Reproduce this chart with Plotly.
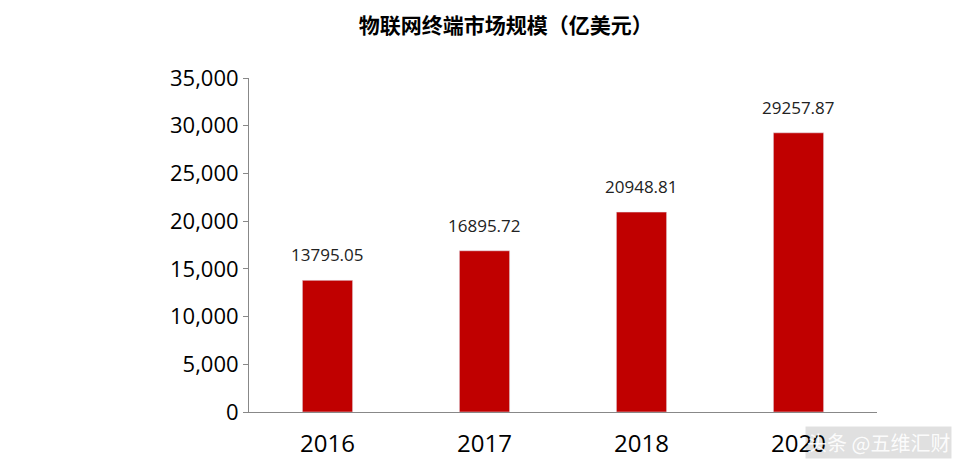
import plotly.graph_objects as go

years = ["2016", "2017", "2018", "2020"]
values = [13795.05, 16895.72, 20948.81, 29257.87]
labels = ["13795.05", "16895.72", "20948.81", "29257.87"]
ytick_vals = [0, 5000, 10000, 15000, 20000, 25000, 30000, 35000]
ytick_text = ["0", "5,000", "10,000", "15,000", "20,000", "25,000", "30,000", "35,000"]

fig = go.Figure(go.Bar(x=years, y=values, marker_color="#C00000"))

# value labels above the bars (x given as category index)
for i, (v, lab) in enumerate(zip(values, labels)):
    fig.add_annotation(x=i, y=v, text=lab, showarrow=False, yanchor="bottom",
                       yshift=12, font=dict(size=17, color="#222", family="Open Sans"))

fig.update_layout(
    width=980, height=470, plot_bgcolor="white", paper_bgcolor="white",
    margin=dict(l=241, r=111, t=70, b=66), bargap=0.68, showlegend=False,
    font=dict(family="Open Sans, Noto Sans CJK SC, sans-serif", color="#000"),
    title=dict(text="<b>物联网终端市场规模（亿美元）</b>", x=0.508, xanchor="center",
               y=0.962, yanchor="middle", font=dict(size=21, family="Noto Sans CJK SC")),
)
fig.update_xaxes(type="category", showline=True, linecolor="#888", linewidth=1,
                 tickfont=dict(size=24), ticks="", automargin=False, ticklabelstandoff=10)
fig.update_yaxes(range=[0, 35000], tickvals=ytick_vals, ticktext=ytick_text,
                 showgrid=False, showline=True, linecolor="#888", linewidth=1,
                 ticks="outside", ticklen=5, tickcolor="#888", automargin=False,
                 tickfont=dict(size=22), zeroline=False)

fig.add_annotation(text="头条 @五维汇财", xref="paper", yref="paper", x=1.12, y=-0.09,
                   xanchor="right", yanchor="middle", showarrow=False,
                   font=dict(size=20, color="rgba(255,255,255,0.9)", family="Noto Sans CJK SC"),
                   bgcolor="rgba(0,0,0,0.12)")

fig.write_html("out.html")
